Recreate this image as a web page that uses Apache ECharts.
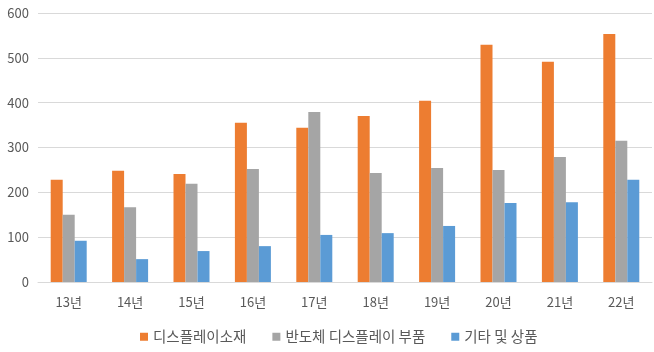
<!DOCTYPE html>
<html>
<head>
<meta charset="utf-8">
<script src="https://cdn.jsdelivr.net/npm/echarts@6/dist/echarts.min.js"></script>
<style>
  html, body { margin: 0; padding: 0; background: #fff; }
  #main { width: 654px; height: 352px; }
</style>
</head>
<body>
<div id="main"></div>
<script>
const years = ['13년', '14년', '15년', '16년', '17년', '18년', '19년', '20년', '21년', '22년'];
const displayMaterial = [228, 248, 241, 355, 344, 370, 404, 529, 491, 553];
const semiDisplayParts = [150, 167, 219, 252, 379, 243, 254, 250, 279, 315];
const etcGoods = [92, 51, 69, 80, 105, 109, 125, 176, 178, 228];

const chart = echarts.init(document.getElementById('main'));
const font = '"Noto Sans CJK KR", "Noto Sans", sans-serif';

function bar(name, data, color) {
    return {
        name: name,
        type: 'bar',
        data: data,
        barWidth: 12,
        barGap: '0%',
        itemStyle: { color: color }
    };
}

chart.setOption({
    animation: false,
    textStyle: { fontFamily: font },
    grid: { left: 38, right: 2, top: 13, bottom: 70 },
    legend: {
        bottom: 3,
        left: 135,
        itemWidth: 8,
        itemHeight: 8,
        itemGap: 26,
        icon: 'rect',
        textStyle: { color: '#595959', fontSize: 14.5, fontFamily: font },
        data: ['디스플레이소재', '반도체 디스플레이 부품', '기타 및 상품']
    },
    xAxis: {
        type: 'category',
        data: years,
        axisLine: { lineStyle: { color: '#D9D9D9' } },
        axisTick: { show: false },
        axisLabel: { color: '#595959', fontSize: 13, margin: 14, fontFamily: font }
    },
    yAxis: {
        type: 'value',
        min: 0,
        max: 600,
        interval: 100,
        axisLine: { show: false },
        axisTick: { show: false },
        splitLine: { lineStyle: { color: '#D9D9D9' } },
        axisLabel: { color: '#595959', fontSize: 13, margin: 9, fontFamily: font }
    },
    series: [
        bar('디스플레이소재', displayMaterial, '#ED7D31'),
        bar('반도체 디스플레이 부품', semiDisplayParts, '#A5A5A5'),
        bar('기타 및 상품', etcGoods, '#5B9BD5')
    ]
});
</script>
</body>
</html>
